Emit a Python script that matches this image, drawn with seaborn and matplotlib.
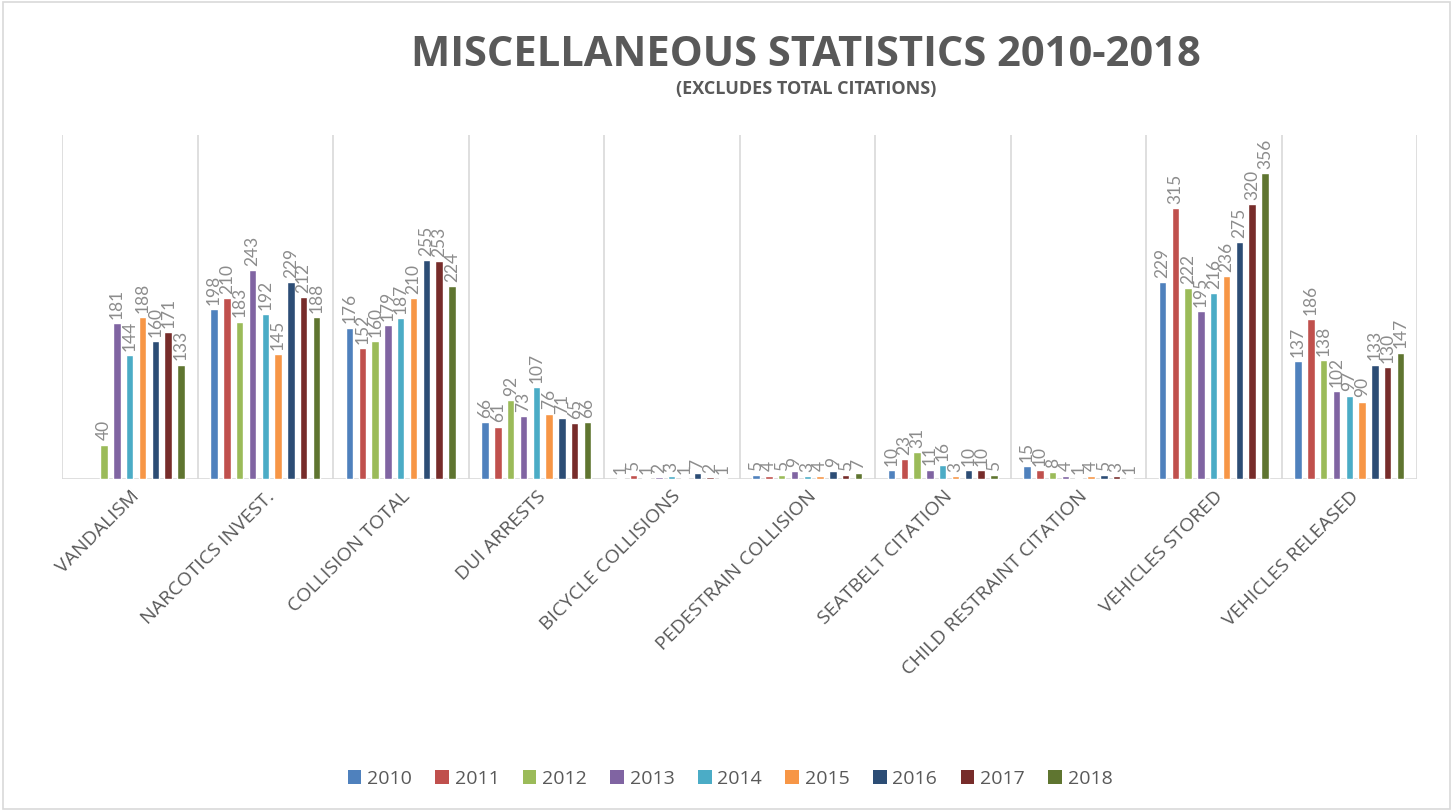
import numpy as np
import pandas as pd
import matplotlib
matplotlib.use('Agg')
import matplotlib.pyplot as plt
from matplotlib.patches import Patch, Rectangle
import seaborn as sns

# data
categories = ['VANDALISM', 'NARCOTICS INVEST.', 'COLLISION TOTAL', 'DUI ARRESTS',
              'BICYCLE COLLISIONS', 'PEDESTRAIN COLLISION', 'SEATBELT CITATION',
              'CHILD RESTRAINT CITATION', 'VEHICLES STORED', 'VEHICLES RELEASED']
years = ['2010', '2011', '2012', '2013', '2014', '2015', '2016', '2017', '2018']

v2010 = [np.nan, 198, 176, 66, 1, 5, 10, 15, 229, 137]
v2011 = [np.nan, 210, 152, 61, 5, 4, 23, 10, 315, 186]
v2012 = [40, 183, 160, 92, 1, 5, 31, 8, 222, 138]
v2013 = [181, 243, 179, 73, 2, 9, 11, 4, 195, 102]
v2014 = [144, 192, 187, 107, 3, 3, 16, 1, 216, 97]
v2015 = [188, 145, 210, 76, 1, 4, 3, 4, 236, 90]
v2016 = [160, 229, 255, 71, 7, 9, 10, 5, 275, 133]
v2017 = [171, 212, 253, 65, 2, 5, 10, 3, 320, 130]
v2018 = [133, 188, 224, 66, 1, 7, 5, 1, 356, 147]

colors = ['#4F81BD', '#C0504D', '#9BBB59', '#8064A2', '#4BACC6',
          '#F79646', '#2C4D75', '#772C2A', '#5F7530']

series = [v2010, v2011, v2012, v2013, v2014, v2015, v2016, v2017, v2018]
rows = []
for y, vals in zip(years, series):
    for c, v in zip(categories, vals):
        rows.append({'category': c, 'year': y, 'value': v})
df = pd.DataFrame(rows)

sns.set_style('white')
plt.rcParams['font.family'] = ['Open Sans', 'DejaVu Sans']

fig = plt.figure(figsize=(14.53, 8.11), dpi=100)
ax = fig.add_axes([62 / 1453, 1 - 479 / 811, (1417 - 62) / 1453, (479 - 135) / 811])

sns.barplot(data=df, x='category', y='value', hue='year', order=categories,
            hue_order=years, palette=colors, width=0.85, gap=0.42,
            errorbar=None, legend=False, ax=ax, saturation=1)

for cont in ax.containers:
    ax.bar_label(cont, fmt='%g', rotation=90, padding=3, color='#8c8c8c',
                 fontsize=12.5, family='Lato')

ax.set_xlim(-0.5, len(categories) - 0.5)
ax.set_ylim(0, 400)
for i in range(len(categories) + 1):
    ax.axvline(i - 0.5, color='#d9d9d9', lw=1.2, zorder=0)
ax.axhline(0, color='#d9d9d9', lw=1.2, zorder=0)
sns.despine(ax=ax, left=True, bottom=True)
ax.set_yticks([])
ax.set_xlabel('')
ax.set_ylabel('')
ax.tick_params(axis='x', length=0, pad=6)
ax.set_xticks(range(len(categories)))
ax.set_xticklabels(categories, rotation=45, ha='right', rotation_mode='anchor',
                   color='#595959', fontsize=14)

fig.text(806 / 1453, 1 - 55 / 811, 'MISCELLANEOUS STATISTICS 2010-2018', ha='center',
         va='center', fontsize=30, fontweight='bold', color='#595959')
fig.text(806 / 1453, 1 - 89 / 811, '(EXCLUDES TOTAL CITATIONS)', ha='center',
         va='center', fontsize=13, fontweight='bold', color='#595959')

handles = [Patch(facecolor=c, edgecolor='none') for c in colors]
fig.legend(handles, years, loc='center', bbox_to_anchor=(730 / 1453, 1 - 779 / 811),
           ncol=9, frameon=False, fontsize=14, handlelength=0.7,
           handleheight=0.7, handletextpad=0.3, columnspacing=1.2,
           labelcolor='#595959')

fig.patches.append(Rectangle((0.002, 0.002), 0.996, 0.996, transform=fig.transFigure,
                             fill=False, edgecolor='#d9d9d9', lw=1.2))

fig.savefig('out.png', dpi=100)
